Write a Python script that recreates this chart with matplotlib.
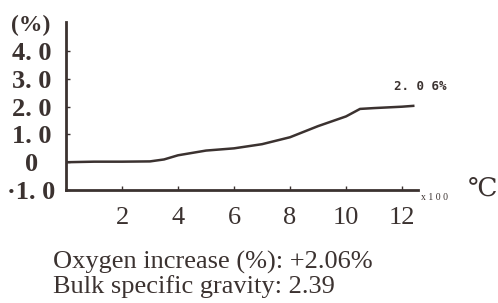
import matplotlib
matplotlib.use("Agg")
import matplotlib.pyplot as plt

temp_x100 = [0, 1, 2, 3, 3.5, 4, 5, 6, 7, 8, 9, 10, 10.5, 11, 12, 12.4]
oxygen_pct = [0, 0.02, 0.02, 0.03, 0.1, 0.25, 0.42, 0.5, 0.65, 0.9, 1.3, 1.65, 1.92, 1.95, 2.0, 2.03]
x_ticks = [2, 4, 6, 8, 10, 12]
y_ticks = [-1, 0, 1, 2, 3, 4]
y_tick_labels = ["\u00b71. 0", "0", "1. 0", "2. 0", "3. 0", "4. 0"]
end_label = "2. 0 6%"
caption = ["Oxygen increase (%): +2.06%", "Bulk specific gravity: 2.39"]

W, H = 498, 303
fig = plt.figure(figsize=(W/100, H/100), dpi=100)
ink = "#3b3230"
serif = ["Liberation Serif", "DejaVu Serif"]

def px(x0, y0, x1, y1):
    return [x0/W, 1 - y1/H, (x1-x0)/W, (y1-y0)/H]

ax = fig.add_axes(px(66, 22, 418, 190))
ax.plot(temp_x100, oxygen_pct, color=ink, lw=1.8)
ax.set_xlim(0, 12.57)
ax.set_ylim(-1, 5.05)
for s in ["top", "right"]:
    ax.spines[s].set_visible(False)
for s in ["left", "bottom"]:
    ax.spines[s].set_color(ink)
    ax.spines[s].set_linewidth(2)

ax.set_xticks(x_ticks)
ax.set_xticklabels([str(v) for v in x_ticks], fontfamily=serif, fontsize=19, color=ink)
ax.set_yticks(y_ticks)
ax.set_yticklabels(y_tick_labels, fontfamily=serif, fontsize=19, fontweight="bold", color=ink, ha="center")
ax.tick_params(axis="x", direction="in", length=3, width=1, color=ink, pad=12)
ax.tick_params(axis="y", direction="in", length=3, width=1, color=ink, pad=25)

fig.text(31/W, 1 - 25/H, "(%)", fontfamily=serif, fontsize=17, fontweight="bold", color=ink, ha="center", va="center")
ax.text(11.7, 2.71, end_label, fontfamily="DejaVu Sans Mono", fontsize=9, fontweight="bold", color=ink, ha="left", va="center")
fig.text(421/W, 1 - 198/H, "x 1 0 0", fontfamily=serif, fontsize=7, color=ink, ha="left", va="center")
fig.text(468/W, 1 - 190/H, "\u2103", fontfamily=serif, fontsize=19, color=ink, ha="left", va="center")
fig.text(53/W, 1 - 262/H, caption[0], fontfamily=serif, fontsize=19, color=ink, ha="left", va="center")
fig.text(53/W, 1 - 287/H, caption[1], fontfamily=serif, fontsize=19, color=ink, ha="left", va="center")

fig.savefig("out.png", dpi=100, facecolor="white")
